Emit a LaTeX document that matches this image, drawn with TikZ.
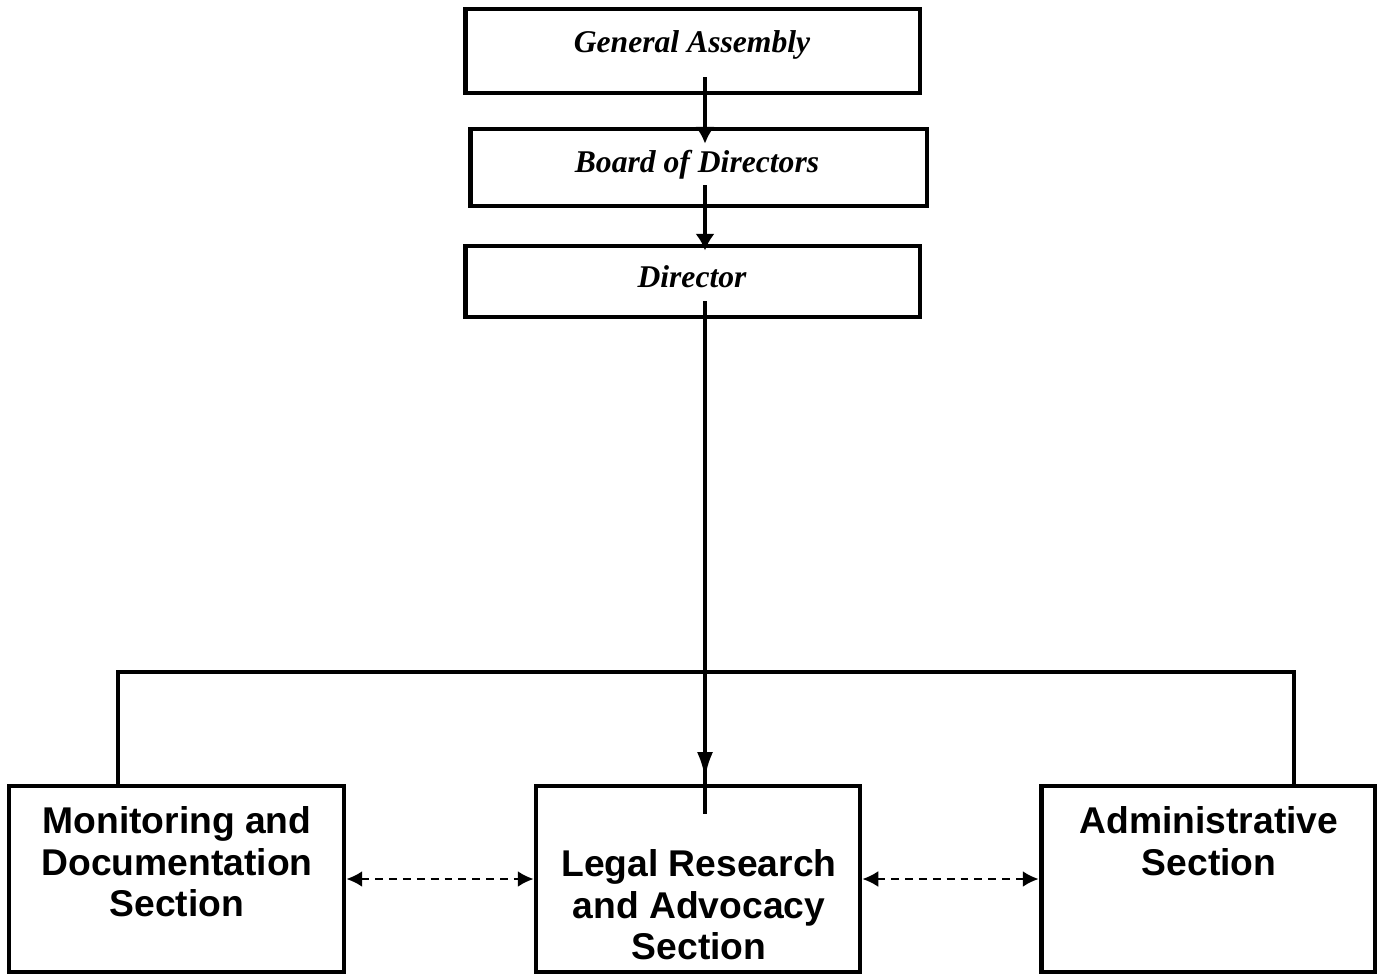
\documentclass[tikz,border=0pt]{standalone}
\usepackage{fontspec}
\setmainfont{Liberation Serif}
\setsansfont{Liberation Sans}
\usetikzlibrary{positioning,calc,arrows.meta}
\tikzset{
	basic/.style   = {draw, rectangle, line width=2.8pt, inner sep=0pt},
	office/.style  = {basic, minimum width=9.1cm},
	section/.style = {basic, minimum height=3.72cm},
	office text/.style  = {font=\fontsize{18}{22}\selectfont\bfseries\itshape,
		inner sep=0pt, anchor=base},
	section text/.style = {font=\fontsize{21.2}{23.8}\selectfont\sffamily\bfseries,
		align=center, inner sep=0pt, anchor=north},
	link/.style = {line width=2.4pt},
	peer/.style = {line width=1.1pt, dash pattern=on 4.5pt off 3.4pt,
		{Latex[length=9pt,width=9pt]}-{Latex[length=9pt,width=9pt]}}
}
\begin{document}
\begin{tikzpicture}[
		x=0.02cm, y=-0.02cm,
		>={Latex[length=9.5pt,width=11pt]}]
		\useasboundingbox (0,0) rectangle (1379,977);
		
		% the offices on top
		\node[office, minimum height=1.68cm] (ga) at (692.5,51) {};
		\node[office, minimum width=9.14cm, minimum height=1.54cm] (bod) at (698.5,167.5) {};
		\node[office, minimum height=1.42cm] (dir) at (692.5,281.5) {};
		\node[office text] (ga text) at (692,52) {General Assembly};
		\node[office text] (bod text) at (697,172) {Board of Directors};
		\node[office text] (dir text) at (692,287) {Director};
		% the three sections
		\node[section, minimum width=6.7cm] (mon) at (176.5,879) {};
		\node[section, minimum width=6.48cm] (lra) at (698,879) {};
		\node[section, minimum width=6.68cm] (adm) at (1208,879) {};
		\node[section text] (mon text) at (177,806) {Monitoring and\\Documentation\\Section};
		\node[section text] (lra text) at (699,849) {Legal Research\\and Advocacy\\Section};
		\node[section text] (adm text) at (1209,806) {Administrative\\Section};
		
		\coordinate (spine) at (705,0);
		\coordinate (bus left) at (118,672);
		\coordinate (bus right) at (1294,672);
		\draw[link,->] ($(ga.south -| spine)+(0,-18)$) -- ($(bod.north -| spine)+(0,17)$);
		\draw[link,->] ($(bod.south -| spine)+(0,-23)$) -- ($(dir.north -| spine)+(0,7)$);
		\draw[link] ($(dir.south -| spine)+(0,-18)$) -- ($(lra.north -| spine)+(0,30)$);
		\draw[link,-{Latex[length=15pt,width=9pt]}] ($(dir.south -| spine)+(0,-18)$)
			-- ($(lra.north -| spine)+(0,-5)$);
		\draw[link, line width=2.2pt] (mon.north -| bus left) -- (bus left) -- (bus right)
			-- (adm.north -| bus right);
		\draw[peer] (mon.east) -- (lra.west);
		\draw[peer] (lra.east) -- (adm.west);
	\end{tikzpicture}
\end{document}
